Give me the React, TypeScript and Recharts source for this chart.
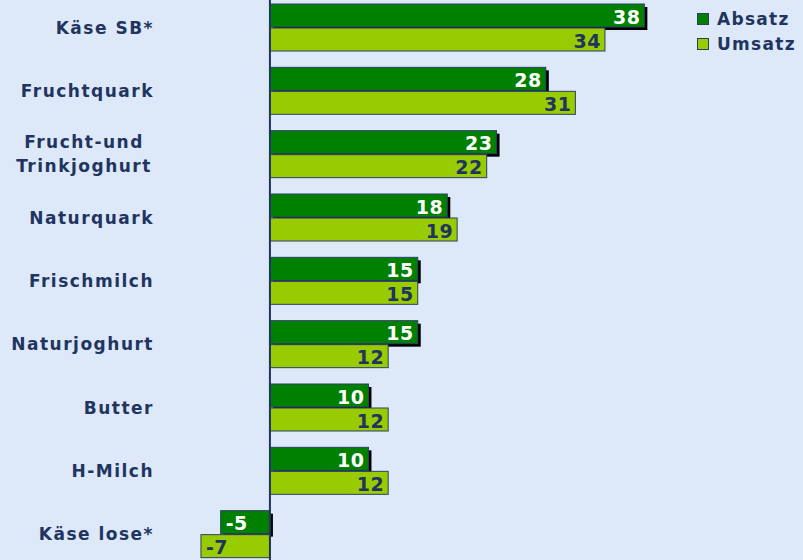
import React from 'react';
import { BarChart, Bar, XAxis, YAxis, ReferenceLine, LabelList } from 'recharts';

const categories = [
  'Käse SB*',
  'Fruchtquark',
  'Frucht-und\nTrinkjoghurt',
  'Naturquark',
  'Frischmilch',
  'Naturjoghurt',
  'Butter',
  'H-Milch',
  'Käse lose*',
];
const absatz = [38, 28, 23, 18, 15, 15, 10, 10, -5];
const umsatz = [34, 31, 22, 19, 15, 12, 12, 12, -7];
const seriesNames = ['Absatz', 'Umsatz'];

const data = categories.map((name, i) => ({ name, absatz: absatz[i], umsatz: umsatz[i] }));

const navy = '#1f3560';
const dark = '#008000';
const light = '#99cc00';
const font = '"DejaVu Sans", Verdana, sans-serif';

const CategoryTick = (props: any) => {
  const { y, payload } = props;
  const lines = String(payload.value).split('\n');
  const common = {
    fill: navy,
    fontFamily: font,
    fontWeight: 700,
    fontSize: 17,
    letterSpacing: 1.5,
    dominantBaseline: 'central' as const,
  };
  if (lines.length > 1) {
    return (
      <g>
        {lines.map((l, i) => (
          <text key={i} x={84} y={y - 12 + i * 24} textAnchor="middle" {...common}>
            {l}
          </text>
        ))}
      </g>
    );
  }
  return (
    <text x={154} y={y} textAnchor="end" {...common}>
      {lines[0]}
    </text>
  );
};

const ShadowBar = (props: any) => {
  const { x, y, width, height, fill } = props;
  const x0 = width < 0 ? x + width : x;
  const w = Math.abs(width);
  return (
    <g>
      <rect x={x0 + 3} y={y + 3} width={w} height={height} fill="#000" />
      <rect x={x0} y={y} width={w} height={height} fill={fill} stroke="#2a3f66" strokeWidth={1} />
    </g>
  );
};

const PlainBar = (props: any) => {
  const { x, y, width, height, fill } = props;
  const x0 = width < 0 ? x + width : x;
  const w = Math.abs(width);
  return <rect x={x0} y={y} width={w} height={height} fill={fill} stroke="#2a3f66" strokeWidth={1} />;
};

const makeLabel = (color: string) => (props: any) => {
  const { x, y, width, height, value } = props;
  const neg = Number(value) < 0;
  const x0 = width < 0 ? x + width : x;
  const w = Math.abs(width);
  return (
    <text
      x={neg ? x0 + 5 : x0 + w - 4}
      y={y + height / 2 + 1}
      textAnchor={neg ? 'start' : 'end'}
      dominantBaseline="central"
      fill={color}
      fontFamily={font}
      fontWeight={700}
      fontSize={19}
      letterSpacing={0.5}
    >
      {value}
    </text>
  );
};

const LegendBox = () => (
  <div
    style={{
      position: 'absolute',
      left: 697,
      top: 10,
      fontFamily: font,
      fontWeight: 700,
      fontSize: 17,
      color: navy,
      letterSpacing: 1.3,
    }}
  >
    {seriesNames.map((label, i) => (
      <div key={label} style={{ display: 'flex', alignItems: 'center', height: 25 }}>
        <span
          style={{
            display: 'inline-block',
            width: 10,
            height: 10,
            background: i === 0 ? dark : light,
            border: '1px solid #2a3f66',
            marginRight: 8,
          }}
        />
        {label}
      </div>
    ))}
  </div>
);

export default function App() {
  return (
    <div style={{ position: 'absolute', left: 0, top: -4, width: 803, height: 570, background: '#dde8f8' }}>
      <BarChart
        width={803}
        height={570}
        data={data}
        layout="vertical"
        margin={{ top: 0, right: 0, bottom: 0, left: 0 }}
        barSize={23}
        barGap={1}
      >
        <XAxis type="number" domain={[-7.3, 54.1]} hide allowDataOverflow />
        <YAxis
          type="category"
          dataKey="name"
          width={198}
          axisLine={false}
          tickLine={false}
          tick={<CategoryTick />}
          interval={0}
        />
        <Bar dataKey="absatz" fill={dark} shape={<ShadowBar />} isAnimationActive={false}>
          <LabelList dataKey="absatz" content={makeLabel('#ffffff')} />
        </Bar>
        <Bar dataKey="umsatz" fill={light} shape={<PlainBar />} isAnimationActive={false}>
          <LabelList dataKey="umsatz" content={makeLabel(navy)} />
        </Bar>
        <ReferenceLine x={0} stroke={navy} strokeWidth={2} />
      </BarChart>
      <LegendBox />
    </div>
  );
}
